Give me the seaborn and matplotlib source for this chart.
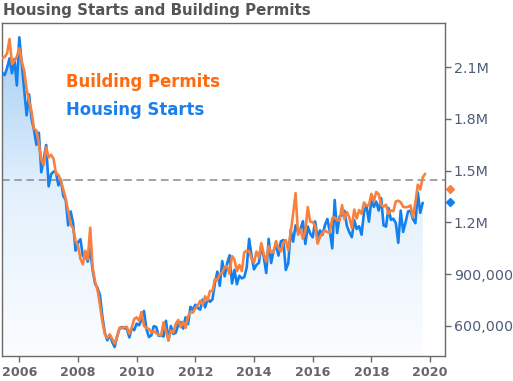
import numpy as np
import pandas as pd
import matplotlib
matplotlib.use("Agg")
import matplotlib.pyplot as plt
import seaborn as sns
from matplotlib.patches import PathPatch
from matplotlib.colors import LinearSegmentedColormap
from matplotlib.transforms import blended_transform_factory

# ---- data (thousands of units, SAAR), monthly ----
start_year, start_month = 2005, 6
housing_starts = [
    2068, 2054, 2095, 2151, 2065, 2147, 1994,
    2273, 2119, 1969, 1821, 1942, 1802, 1737, 1650, 1720, 1491, 1570, 1649,
    1409, 1480, 1495, 1490, 1415, 1448, 1354, 1330, 1183, 1264, 1197, 1037,
    1084, 1103, 1005, 1013, 973, 1046, 923, 844, 820, 777, 652, 560,
    517, 550, 507, 478, 540, 585, 594, 586, 585, 534, 588, 576,
    614, 604, 636, 687, 583, 536, 546, 599, 594, 543, 545, 539,
    630, 517, 600, 554, 561, 608, 623, 585, 650, 610, 711, 694,
    723, 704, 695, 753, 708, 757, 740, 754, 847, 915, 833, 976,
    888, 962, 1010, 847, 925, 842, 891, 876, 883, 938, 1105, 1006,
    928, 954, 966, 1068, 1001, 907, 1105, 965, 1035, 1073, 1008, 1091,
    1098, 925, 963, 1156, 1089, 1183, 1144, 1161, 1207, 1075, 1176, 1135,
    1114, 1206, 1110, 1154, 1128, 1184, 1220, 1149, 1050, 1330, 1139, 1236,
    1241, 1268, 1180, 1143, 1115, 1213, 1162, 1178, 1129, 1261, 1298, 1205,
    1331, 1290, 1321, 1269, 1341, 1183, 1176, 1284, 1215, 1222, 1197, 1082,
    1269, 1145, 1202, 1264, 1268, 1220, 1196, 1375, 1256, 1314,
]
building_permits = [
    2153, 2159, 2180, 2263, 2118, 2136, 2161,
    2209, 2134, 2078, 1973, 1900, 1844, 1743, 1733, 1658, 1563, 1533, 1636,
    1577, 1592, 1569, 1483, 1476, 1442, 1389, 1338, 1263, 1190, 1166, 1092,
    1065, 989, 957, 1036, 985, 1170, 939, 856, 808, 719, 624, 551,
    531, 550, 525, 498, 538, 590, 587, 594, 595, 555, 591, 641,
    650, 630, 681, 600, 589, 583, 563, 571, 558, 548, 546, 621,
    568, 517, 574, 562, 612, 635, 593, 625, 589, 655, 681, 677,
    704, 719, 746, 723, 772, 750, 803, 801, 872, 868, 900, 909,
    941, 946, 902, 1005, 985, 918, 954, 918, 1027, 1036, 1034, 991,
    967, 1031, 997, 1080, 1015, 973, 1063, 1024, 1029, 1092, 1051, 1032,
    1081, 1098, 1038, 1143, 1250, 1370, 1130, 1161, 1105, 1150, 1289, 1204,
    1203, 1178, 1077, 1116, 1138, 1153, 1144, 1139, 1225, 1229, 1212, 1210,
    1300, 1219, 1260, 1228, 1168, 1275, 1223, 1272, 1250, 1316, 1298, 1300,
    1366, 1323, 1377, 1364, 1301, 1292, 1303, 1249, 1270, 1265, 1322, 1326,
    1317, 1291, 1288, 1290, 1299, 1230, 1317, 1419, 1391, 1461, 1482,
]
reference_level = 1444000
marker_values = [1394000, 1317000]  # permits, starts
x_ticks = [2006, 2008, 2010, 2012, 2014, 2016, 2018, 2020]
y_ticks = [600000, 900000, 1200000, 1500000, 1800000, 2100000]
y_tick_labels = ["600,000", "900,000", "1.2M", "1.5M", "1.8M", "2.1M"]


def month_axis(n):
    return [start_year + (start_month - 1 + i) / 12.0 for i in range(n)]


df_starts = pd.DataFrame({"t": month_axis(len(housing_starts)),
                          "v": np.array(housing_starts) * 1000})
df_permits = pd.DataFrame({"t": month_axis(len(building_permits)),
                           "v": np.array(building_permits) * 1000})

BLUE = "#1380ee"
ORANGE = "#f8813f"
W, H = 513, 381

sns.set_theme(style="white")
plt.rcParams["font.family"] = ["DejaVu Sans"]
fig = plt.figure(figsize=(W / 100, H / 100), dpi=100)
ax = fig.add_axes([1.7 / W, 1 - 356 / H, (445.3 - 1.7) / W, (356 - 23) / H])

xmin, xmax = 2005.40, 2020.52
ymin, ymax = 426000, 2356000
ax.set_xlim(xmin, xmax)
ax.set_ylim(ymin, ymax)

# gradient fill under housing starts
poly = ax.fill_between(df_starts["t"], df_starts["v"], ymin, color="none", lw=0)
clip = PathPatch(poly.get_paths()[0], transform=ax.transData,
                 facecolor="none", edgecolor="none")
ax.add_patch(clip)
cmap = LinearSegmentedColormap.from_list("g", ["#fbfdff", "#e3f0fc", "#9ecbf5"])
grad = np.linspace(1, 0, 256).reshape(-1, 1)
im = ax.imshow(grad, extent=[xmin, xmax, ymin, ymax], aspect="auto",
               cmap=cmap, origin="upper", zorder=1, interpolation="bilinear")
im.set_clip_path(clip)

ax.axhline(reference_level, color="#8a8a8a", lw=1.1, dashes=(5, 3), zorder=2)

sns.lineplot(data=df_starts, x="t", y="v", ax=ax, color=BLUE, lw=1.9, zorder=3)
sns.lineplot(data=df_permits, x="t", y="v", ax=ax, color=ORANGE, lw=1.9, zorder=4)

# last-value markers on the right
tr = blended_transform_factory(ax.transAxes, ax.transData)
mx = (450 - 1.7) / (445.3 - 1.7)
ax.plot([mx], [marker_values[0]], marker="D", ms=4.5, color=ORANGE,
        transform=tr, clip_on=False, ls="none")
ax.plot([mx], [marker_values[1]], marker="D", ms=4.5, color=BLUE,
        transform=tr, clip_on=False, ls="none")

# axes styling
for s in ax.spines.values():
    s.set_color("#6a6a6a")
    s.set_linewidth(1.0)
    s.set_visible(True)
ax.yaxis.tick_right()
ax.set_yticks(y_ticks)
ax.set_yticklabels(y_tick_labels)
ax.set_xticks(x_ticks)
ax.set_xticklabels([str(x) for x in x_ticks])
ax.tick_params(axis="y", right=True, left=False, length=4, width=1,
               color="#6a6a6a", pad=2, labelsize=10.3, labelcolor="#4e5d78")
ax.tick_params(axis="x", bottom=True, length=4, width=1, color="#6a6a6a",
               pad=3, labelsize=9.2, labelcolor="#666666")
for lab in ax.get_xticklabels():
    lab.set_fontweight("bold")
ax.set_xlabel("")
ax.set_ylabel("")
ax.grid(False)

fig.text(3 / W, 1 - 10.5 / H, "Housing Starts and Building Permits",
         fontsize=10.85, fontweight="bold", color="#555555", va="center", ha="left")
fig.text(66 / W, 1 - 82 / H, "Building Permits", fontsize=11.9,
         fontweight="bold", color="#ff6a0e", va="center", ha="left")
fig.text(66 / W, 1 - 110 / H, "Housing Starts", fontsize=11.9,
         fontweight="bold", color="#1a7fec", va="center", ha="left")

fig.savefig("out.png", dpi=100)
